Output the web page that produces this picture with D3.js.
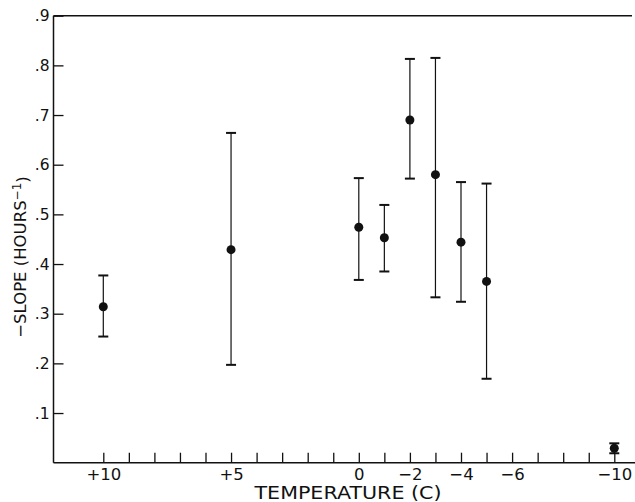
<!DOCTYPE html>
<html>
<head>
<meta charset="utf-8">
<script src="https://cdn.jsdelivr.net/npm/d3@7"></script>
<style>
  html, body { margin: 0; padding: 0; background: #fff; }
  svg { display: block; font-family: "DejaVu Sans", sans-serif; }
</style>
</head>
<body>
<svg id="chart" width="635" height="502"></svg>
<script>
// ---- data ----
const temperatures = [10, 5, 0, -1, -2, -3, -4, -5, -10];
const slopeValues  = [0.314, 0.429, 0.474, 0.453, 0.690, 0.580, 0.444, 0.365, 0.029];
const upperValues  = [0.377, 0.664, 0.573, 0.519, 0.813, 0.815, 0.565, 0.562, 0.039];
const lowerValues  = [0.254, 0.197, 0.368, 0.385, 0.572, 0.333, 0.324, 0.169, 0.019];
const xTickValues  = d3.range(10, -11, -1);
const xTickLabels  = {"10": "+10", "5": "+5", "0": "0", "-2": "\u22122", "-4": "\u22124", "-6": "\u22126", "-10": "\u221210"};
const yTickValues  = [0.1, 0.2, 0.3, 0.4, 0.5, 0.6, 0.7, 0.8, 0.9];
const xTitle = "TEMPERATURE (C)";

const ink = "#111";
const svg = d3.select("#chart");

const x = d3.scaleLinear().domain([10, -10]).range([103.3, 614.3]);
const y = d3.scaleLinear().domain([0, 0.9]).range([462.7, 15.7]);
const left = 53.5;

// axes
const gx = svg.append("g").attr("transform", `translate(0,${y(0)})`)
  .call(d3.axisBottom(x).tickValues(xTickValues).tickSize(-10).tickPadding(6)
    .tickFormat(d => xTickLabels[String(d)] || ""));
gx.select(".domain").remove();
gx.selectAll(".tick line").attr("stroke", ink).attr("stroke-width", 1.3);
gx.selectAll(".tick text").attr("fill", ink).style("font-size", "16.5px")
  .style("font-family", "DejaVu Sans, sans-serif");

const gy = svg.append("g").attr("transform", `translate(${left},0)`)
  .call(d3.axisLeft(y).tickValues(yTickValues).tickSize(-10).tickPadding(4)
    .tickFormat(d => d3.format(".1f")(d).replace(/^0/, "")));
gy.select(".domain").remove();
gy.selectAll(".tick line").attr("stroke", ink).attr("stroke-width", 1.3);
gy.selectAll(".tick text").attr("fill", ink).style("font-size", "15.5px")
  .style("font-family", "DejaVu Sans, sans-serif");

// frame lines
svg.append("line").attr("x1", left).attr("x2", left).attr("y1", y(0.9)).attr("y2", y(0))
  .attr("stroke", ink).attr("stroke-width", 1.5);
svg.append("line").attr("x1", left).attr("x2", 635).attr("y1", y(0)).attr("y2", y(0))
  .attr("stroke", ink).attr("stroke-width", 1.6);
svg.append("line").attr("x1", left).attr("x2", 632).attr("y1", y(0.9)).attr("y2", y(0.9))
  .attr("stroke", ink).attr("stroke-width", 1.6);

// error bars and points
const data = temperatures.map((t, i) => ({t, v: slopeValues[i], hi: upperValues[i], lo: lowerValues[i]}));
const g = svg.append("g");
g.selectAll("line.err").data(data).join("line").attr("class", "err")
  .attr("x1", d => x(d.t)).attr("x2", d => x(d.t))
  .attr("y1", d => y(d.hi)).attr("y2", d => y(d.lo))
  .attr("stroke", ink).attr("stroke-width", 1.2);
g.selectAll("line.capHi").data(data).join("line").attr("class", "capHi")
  .attr("x1", d => x(d.t) - 5).attr("x2", d => x(d.t) + 5)
  .attr("y1", d => y(d.hi)).attr("y2", d => y(d.hi))
  .attr("stroke", ink).attr("stroke-width", 2);
g.selectAll("line.capLo").data(data).join("line").attr("class", "capLo")
  .attr("x1", d => x(d.t) - 5).attr("x2", d => x(d.t) + 5)
  .attr("y1", d => y(d.lo)).attr("y2", d => y(d.lo))
  .attr("stroke", ink).attr("stroke-width", 2);
g.selectAll("circle").data(data).join("circle")
  .attr("cx", d => x(d.t)).attr("cy", d => y(d.v)).attr("r", 4.5).attr("fill", ink);

// titles
svg.append("text").attr("x", 348).attr("y", 499).attr("text-anchor", "middle")
  .attr("fill", ink).style("font-size", "17px")
  .attr("textLength", 187).attr("lengthAdjust", "spacingAndGlyphs")
  .text(xTitle);

const yt = svg.append("text").attr("transform", "translate(26,257) rotate(-90)")
  .attr("text-anchor", "middle").attr("fill", ink).style("font-size", "16.5px");
yt.append("tspan").text("\u2212SLOPE (HOURS");
yt.append("tspan").attr("dy", "-0.45em").style("font-size", "12px").text("\u22121");
yt.append("tspan").attr("dy", "0.45em").text(")");
</script>
</body>
</html>
